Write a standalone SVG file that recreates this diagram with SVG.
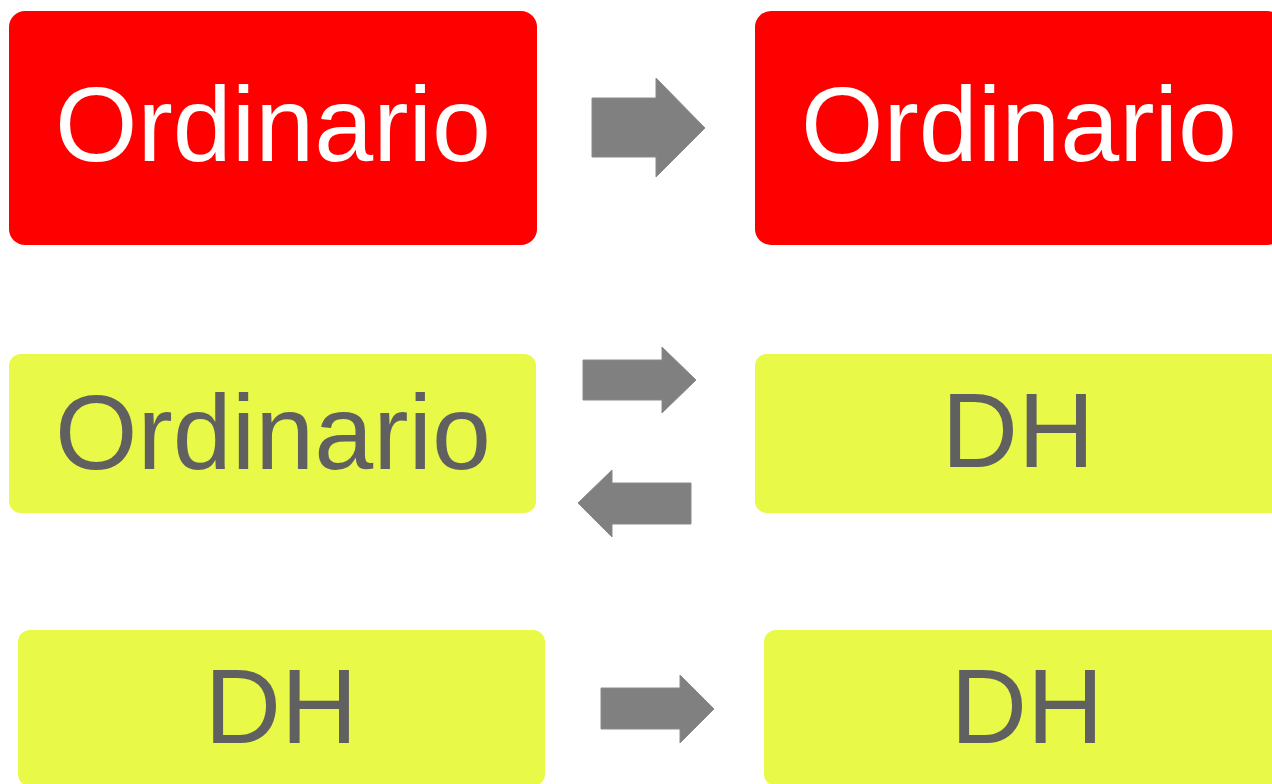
<svg xmlns="http://www.w3.org/2000/svg" width="1272" height="784" viewBox="0 0 1272 784">
<style>
.red{fill:#FF0000}
.yel{fill:#E8F948}
.lbl{font-family:"Liberation Sans",Arial,sans-serif;font-size:106px;text-anchor:middle}
.w{fill:#FFFFFF}
.g{fill:#606060}
.arr{fill:#808080;stroke:#8a8a8a;stroke-width:1}
</style>
<rect width="1272" height="784" fill="#FFFFFF"/>
<g id="n1"><rect class="red" x="9" y="11" width="528" height="234" rx="16"/><text class="lbl w" x="273" y="161">Ordinario</text></g>
<g id="n2"><rect class="red" x="755" y="11" width="528" height="234" rx="16"/><text class="lbl w" x="1019" y="161">Ordinario</text></g>
<g id="n3"><rect class="yel" x="9" y="354" width="527" height="159" rx="12"/><text class="lbl g" x="273" y="469">Ordinario</text></g>
<g id="n4"><rect class="yel" x="755" y="354" width="527" height="159" rx="12"/><text class="lbl g" x="1018" y="467">DH</text></g>
<g id="n5"><rect class="yel" x="18" y="630" width="527" height="156" rx="12"/><text class="lbl g" x="281" y="743">DH</text></g>
<g id="n6"><rect class="yel" x="764" y="630" width="527" height="156" rx="12"/><text class="lbl g" x="1027" y="743">DH</text></g>
<g id="connectors">
<polygon class="arr" points="592,98 656,98 656,78 705,128 656,177 656,157 592,157"/>
<polygon class="arr" points="583,360 662,360 662,347 696,380 662,413 662,400 583,400"/>
<polygon class="arr" points="691,483 612,483 612,470 578,503 612,537 612,524 691,524"/>
<polygon class="arr" points="601,688 680,688 680,675 714,709 680,743 680,729 601,729"/>
</g>
</svg>
